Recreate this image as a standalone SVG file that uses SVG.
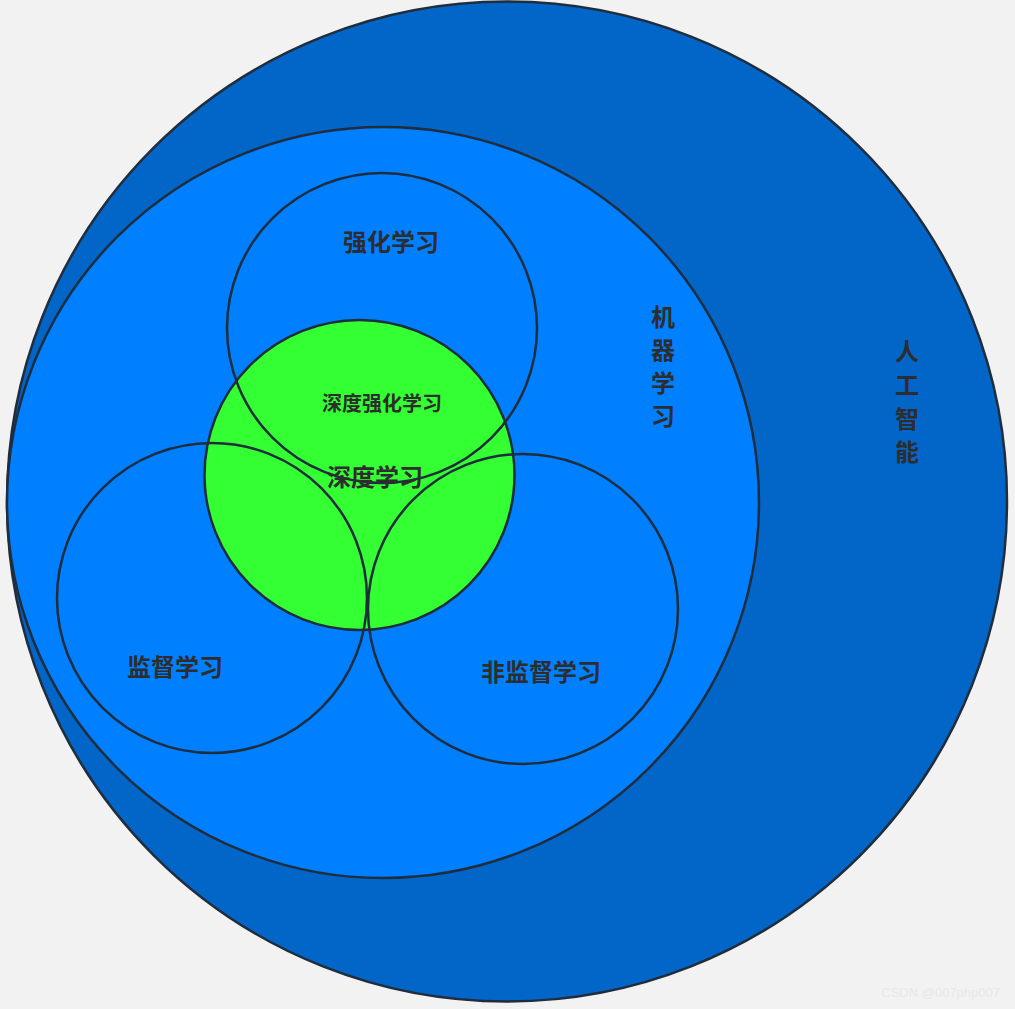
<svg xmlns="http://www.w3.org/2000/svg" width="1015" height="1009" viewBox="0 0 1015 1009">
<style>
.c{stroke:#1f2d3d;stroke-width:2.5}
.t{font-family:"Noto Sans CJK SC","Liberation Sans",sans-serif;font-weight:bold;fill:#2d2d2d;text-anchor:middle;dominant-baseline:central}
</style>
<rect width="1015" height="1009" fill="#f2f2f2"/>
<g id="ai"><circle class="c" cx="507" cy="501.5" r="500" fill="#0266c9"/>
<text class="t" font-size="24" x="907" y="349">人</text><text class="t" font-size="24" x="907" y="383">工</text><text class="t" font-size="24" x="907" y="417">智</text><text class="t" font-size="24" x="907" y="450">能</text></g>
<g id="ml"><ellipse class="c" cx="383" cy="502.5" rx="376" ry="375.5" fill="#007fff"/>
<text class="t" font-size="24" x="663" y="315">机</text><text class="t" font-size="24" x="663" y="348">器</text><text class="t" font-size="24" x="663" y="381">学</text><text class="t" font-size="24" x="663" y="414">习</text></g>
<g id="dl"><circle class="c" cx="359.5" cy="475" r="155" fill="#33ff33"/></g>
<g id="rl"><circle class="c" cx="382" cy="328" r="155" fill="none"/><text class="t" font-size="24" x="391" y="240">强化学习</text></g>
<g id="sl"><circle class="c" cx="212" cy="598" r="155" fill="none"/><text class="t" font-size="24" x="175" y="665">监督学习</text></g>
<g id="ul"><circle class="c" cx="523" cy="609" r="155" fill="none"/><text class="t" font-size="24" x="541" y="670">非监督学习</text></g>
<text class="t" font-size="20" x="382" y="402">深度强化学习</text>
<text class="t" font-size="24" x="375" y="475">深度学习</text>
<text x="1000" y="997" font-family="Liberation Sans,sans-serif" font-size="13" fill="#e8e8e8" text-anchor="end">CSDN @007php007</text>
</svg>
